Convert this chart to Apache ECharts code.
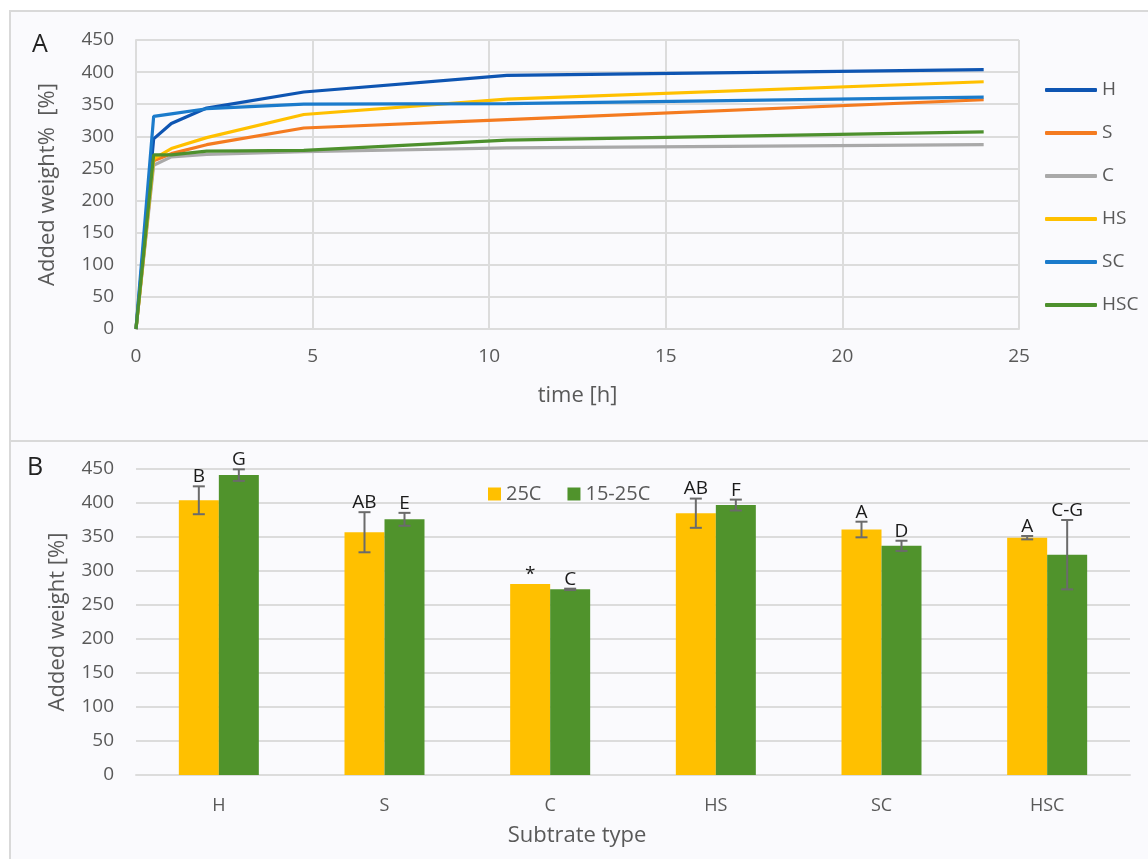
<!DOCTYPE html>
<html>
<head>
<meta charset="utf-8">
<title>Added weight</title>
<script src="https://cdn.jsdelivr.net/npm/echarts@6/dist/echarts.min.js"></script>
<style>
  html, body { margin: 0; padding: 0; background: #ffffff; }
  #chart { width: 1148px; height: 859px; }
</style>
</head>
<body>
<div id="chart"></div>
<script>
// ---- Panel A: added weight over time ----
const times = [0, 0.5, 1, 2, 4.75, 10.5, 24];
const lineNames = ['H', 'S', 'C', 'HS', 'SC', 'HSC'];
const H   = [0, 296, 320, 344, 369, 395, 404];
const S   = [0, 262, 273, 287, 313, 326, 357];
const C   = [0, 255, 268, 272, 276, 282, 287];
const HS  = [0, 265, 281, 298, 334, 358, 385];
const SC  = [0, 331, 335, 343, 350, 351, 361];
const HSC = [0, 271, 271, 277, 278, 294, 307];

// ---- Panel B: final added weight per substrate ----
const categories = ['H', 'S', 'C', 'HS', 'SC', 'HSC'];
const mean25    = [404, 357, 281, 385, 361, 349];
const err25     = [20.5, 29.5, 0, 21.5, 11.5, 2.5];
const mean1525  = [441, 376, 273, 397, 337, 324];
const err1525   = [8.5, 9.5, 1, 8, 7.5, 51];
const letters25   = ['B', 'AB', '*', 'AB', 'A', 'A'];
const letters1525 = ['G', 'E', 'C', 'F', 'D', 'C-G'];

const yTicks = [0, 450, 50]; // min, max, step

const FONT = '"Open Sans", "Noto Sans", sans-serif';
const GREY = '#595959';
const GRID = '#dcdcdc';
const lineColors = ['#0e55b2', '#f47b20', '#a9a9a9', '#ffc000', '#1b7bcb', '#4d902d'];
const barColors = ['#ffc000', '#50932c'];
const BAR_W = 40;
const TICK_FS = 19;
const TITLE_FS = 22;

const seriesA = [H, S, C, HS, SC, HSC].map((vals, i) => ({
  name: lineNames[i],
  type: 'line',
  xAxisIndex: 0,
  yAxisIndex: 0,
  data: times.map((t, k) => [t, vals[k]]),
  showSymbol: false,
  symbol: 'none',
  lineStyle: { width: 3.2, color: lineColors[i] },
  itemStyle: { color: lineColors[i] },
  animation: false
}));

// Error bars plus significance letters, drawn through the category/value scales
function errSeries(name, means, errs, letters, side) {
  return {
    name: name + '-err',
    type: 'custom',
    xAxisIndex: 1,
    yAxisIndex: 1,
    z: 5,
    data: means.map((m, i) => [i, m, errs[i]]),
    renderItem: function (params, api) {
      const idx = api.value(0);
      const m = api.value(1);
      const e = api.value(2);
      const centre = api.coord([idx, m]);
      const x = centre[0] + side * BAR_W / 2;
      const top = api.coord([idx, m + e])[1];
      const bot = api.coord([idx, m - e])[1];
      const children = [];
      const st = { stroke: '#6b6b6b', lineWidth: 2 };
      if (e > 0) {
        children.push({ type: 'line', shape: { x1: x, y1: top, x2: x, y2: bot }, style: st });
        children.push({ type: 'line', shape: { x1: x - 6, y1: top, x2: x + 6, y2: top }, style: st });
        children.push({ type: 'line', shape: { x1: x - 6, y1: bot, x2: x + 6, y2: bot }, style: st });
      }
      children.push({
        type: 'text',
        style: {
          x: x, y: top, text: letters[idx],
          align: 'center', verticalAlign: 'bottom',
          fontSize: 19, fontFamily: FONT, fill: '#1a1a1a'
        }
      });
      return { type: 'group', children: children };
    },
    animation: false,
    silent: true
  };
}

const chart = echarts.init(document.getElementById('chart'), null, { renderer: 'canvas' });

const option = {
  backgroundColor: '#ffffff',
  animation: false,
  textStyle: { fontFamily: FONT },
  graphic: [
    { type: 'rect', z: -10, shape: { x: 10, y: 11, width: 1150, height: 430 },
      style: { fill: '#fafafd', stroke: '#d9d9d9', lineWidth: 2 } },
    { type: 'rect', z: -10, shape: { x: 10, y: 441, width: 1150, height: 430 },
      style: { fill: '#fafafd', stroke: '#d9d9d9', lineWidth: 2 } },
    { type: 'text', left: 32, top: 32,
      style: { text: 'A', fontSize: 25, fontFamily: FONT, fill: '#222222' } },
    { type: 'text', left: 27, top: 455,
      style: { text: 'B', fontSize: 25, fontFamily: FONT, fill: '#222222' } }
  ],
  grid: [
    { left: 136, top: 40, width: 883, height: 289 },
    { left: 136, top: 469, width: 994, height: 306 }
  ],
  legend: [
    {
      data: lineNames,
      orient: 'vertical',
      left: 1040,
      top: 74,
      itemWidth: 52,
      itemHeight: 4,
      itemGap: 21,
      icon: 'roundRect',
      textStyle: { fontSize: 19, color: GREY, fontFamily: FONT, lineHeight: 22, padding: [0, 0, 0, 0] }
    },
    {
      data: ['25C', '15-25C'],
      orient: 'horizontal',
      left: 483,
      top: 479,
      itemWidth: 13,
      itemHeight: 13,
      itemGap: 26,
      icon: 'rect',
      textStyle: { fontSize: 20, color: GREY, fontFamily: FONT }
    }
  ],
  xAxis: [
    {
      gridIndex: 0, type: 'value', min: 0, max: 25, interval: 5,
      name: 'time [h]', nameLocation: 'middle', nameGap: 56,
      nameTextStyle: { fontSize: TITLE_FS, color: GREY, fontFamily: FONT },
      axisLine: { show: true, lineStyle: { color: GRID, width: 2 } },
      axisTick: { show: false },
      axisLabel: { fontSize: TICK_FS, color: GREY, margin: 18, fontFamily: FONT },
      splitLine: { show: true, lineStyle: { color: GRID, width: 2 } }
    },
    {
      gridIndex: 1, type: 'category', data: categories, boundaryGap: true,
      name: 'Subtrate type', nameLocation: 'middle', nameGap: 50,
      nameTextStyle: { fontSize: TITLE_FS, color: GREY, fontFamily: FONT, padding: [0, 112, 0, 0] },
      axisLine: { show: true, lineStyle: { color: GRID, width: 2 } },
      axisTick: { show: false },
      axisLabel: { fontSize: 18, color: GREY, margin: 22, fontFamily: FONT },
      splitLine: { show: false }
    }
  ],
  yAxis: [
    {
      gridIndex: 0, type: 'value', min: yTicks[0], max: yTicks[1], interval: yTicks[2],
      name: 'Added weight%  [%]', nameLocation: 'middle', nameGap: 77,
      nameTextStyle: { fontSize: TITLE_FS, color: GREY, fontFamily: FONT },
      axisLine: { show: true, lineStyle: { color: GRID, width: 2 } },
      axisTick: { show: false },
      axisLabel: { fontSize: TICK_FS, color: GREY, margin: 22, fontFamily: FONT },
      splitLine: { show: true, lineStyle: { color: GRID, width: 2 } }
    },
    {
      gridIndex: 1, type: 'value', min: yTicks[0], max: yTicks[1], interval: yTicks[2],
      name: 'Added weight [%]', nameLocation: 'middle', nameGap: 67,
      nameTextStyle: { fontSize: TITLE_FS, color: GREY, fontFamily: FONT },
      axisLine: { show: false },
      axisTick: { show: false },
      axisLabel: { fontSize: TICK_FS, color: GREY, margin: 22, fontFamily: FONT },
      splitLine: { show: true, lineStyle: { color: GRID, width: 2 } }
    }
  ],
  series: seriesA.concat([
    {
      name: '25C', type: 'bar', xAxisIndex: 1, yAxisIndex: 1,
      data: mean25, barWidth: BAR_W, barGap: '0%',
      itemStyle: { color: barColors[0] }, animation: false
    },
    {
      name: '15-25C', type: 'bar', xAxisIndex: 1, yAxisIndex: 1,
      data: mean1525, barWidth: BAR_W, barGap: '0%',
      itemStyle: { color: barColors[1] }, animation: false
    },
    errSeries('25C', mean25, err25, letters25, -1),
    errSeries('15-25C', mean1525, err1525, letters1525, 1)
  ])
};

chart.setOption(option);
</script>
</body>
</html>
